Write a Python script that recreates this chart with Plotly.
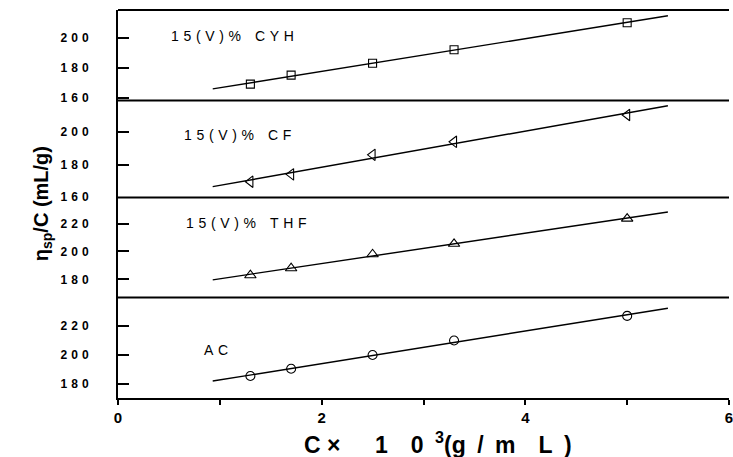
import numpy as np
import plotly.graph_objects as go

# Concentration C x 10^3 (g/mL), shared by every panel
conc = [1.3, 1.7, 2.5, 3.3, 5.0]

# Reduced viscosity eta_sp/C (mL/g) for each solvent treatment
visc_cyh = [169.0, 175.0, 183.0, 192.0, 210.0]
visc_cf = [169.5, 174.0, 186.0, 194.0, 210.5]
visc_thf = [183.0, 188.0, 198.0, 205.5, 223.5]
visc_ac = [185.5, 190.5, 200.0, 210.0, 227.0]

labels = [["1", "5", "(", "V", ")", "%", "", "", "C", "Y", "H"],
          ["1", "5", "(", "V", ")", "%", "", "", "C", "F"],
          ["1", "5", "(", "V", ")", "%", "", "", "T", "H", "F"],
          ["A", "C"]]
markers = ["square-open", "triangle-left-open", "triangle-up-open", "circle-open"]
marker_sizes = [8, 10, 10, 9]

# y tick values per panel (top to bottom)
yticks = [[160, 180, 200], [160, 180, 200], [180, 200, 220], [180, 200, 220]]
yranges = [[158.1, 218.5], [159.8, 219.4], [167.1, 238.6], [170.3, 239.7]]
domains = [[0.7668, 1.0], [0.5168, 0.7668], [0.2590, 0.5168], [0.0, 0.2590]]

# Extent of the least-squares lines
fit_lo, fit_hi = 0.93, 5.40

# Label anchors (x in data units, y in panel units)
label_pos = [(0.50, 201.0), (0.63, 198.2), (0.65, 220.4), (0.82, 203.4)]

series = [visc_cyh, visc_cf, visc_thf, visc_ac]
font_family = "Liberation Sans, Arial, sans-serif"
GAP = "\u2004"  # three-per-em space used for the wide letter spacing

fig = go.Figure()
for i, ys in enumerate(series):
    yname = "y" if i == 0 else f"y{i + 1}"
    slope, icpt = np.polyfit(conc, ys, 1)
    fx = np.array([fit_lo, fit_hi])
    fig.add_trace(go.Scatter(x=fx, y=slope * fx + icpt, mode="lines",
                             line=dict(color="black", width=1.4),
                             xaxis="x", yaxis=yname, showlegend=False,
                             hoverinfo="skip"))
    fig.add_trace(go.Scatter(x=conc, y=ys, mode="markers",
                             marker=dict(symbol=markers[i], size=marker_sizes[i],
                                         color="black", line=dict(width=1.1, color="black")),
                             xaxis="x", yaxis=yname, showlegend=False))

layout = dict(
    width=733, height=457,
    margin=dict(l=118, r=0, t=10, b=59),
    paper_bgcolor="white", plot_bgcolor="white",
    font=dict(family=font_family, color="black"),
    xaxis=dict(range=[0, 6.0], anchor="y4", showline=True, linewidth=2, linecolor="black",
               ticks="outside", ticklen=5, tickwidth=1.5, tickcolor="black",
               tickvals=[0, 2, 4, 6], ticktext=["0", "2", "4", "6"],
               minor=dict(ticks="outside", dtick=1, ticklen=5, tickwidth=1.5,
                          tickcolor="black", showgrid=False),
               ticklabeloverflow="allow",
               tickfont=dict(size=15, family=font_family, weight="bold"),
               showgrid=False, zeroline=False),
)

for i in range(4):
    key = "yaxis" if i == 0 else f"yaxis{i + 1}"
    layout[key] = dict(
        domain=domains[i], range=yranges[i], anchor="x",
        showline=True, linewidth=2, linecolor="black",
        ticks="inside", ticklen=11, tickwidth=1.5, tickcolor="black",
        tickvals=yticks[i], ticktext=[GAP.join(str(v)) for v in yticks[i]],
        tickfont=dict(size=12, family=font_family, weight="bold"),
        ticklabelstandoff=25,
        showgrid=False, zeroline=False,
    )

fig.update_layout(**layout)

# Horizontal frame lines between panels
for yb in [1.0, domains[0][0], domains[1][0], domains[2][0]]:
    fig.add_shape(type="line", xref="paper", yref="paper", x0=0, x1=1, y0=yb, y1=yb,
                  line=dict(color="black", width=2))

# Panel labels
for i, (lx, ly) in enumerate(label_pos):
    yname = "y" if i == 0 else f"y{i + 1}"
    fig.add_annotation(x=lx, y=ly, xref="x", yref=yname, text=GAP.join(labels[i]),
                       showarrow=False, xanchor="left", yanchor="middle",
                       font=dict(size=14, family=font_family))

# Axis titles
fig.add_annotation(x=0.5, y=-0.115, xref="paper", yref="paper",
                   text="C\u00a0\u00d7\u2003\u20021\u2002\u20020\u2002<sup>3</sup>(g\u2002/\u2002m\u2002\u2002L\u2002)",
                   showarrow=False, xanchor="center", yanchor="middle", xshift=14,
                   font=dict(size=23, family=font_family, weight="bold"))
fig.add_annotation(x=-0.124, y=0.50, xref="paper", yref="paper",
                   text="\u03b7<sub>sp</sub>/C (mL/g)", textangle=-90,
                   showarrow=False, xanchor="center", yanchor="middle",
                   font=dict(size=20, family=font_family, weight="bold"))

fig.write_html("out.html")
